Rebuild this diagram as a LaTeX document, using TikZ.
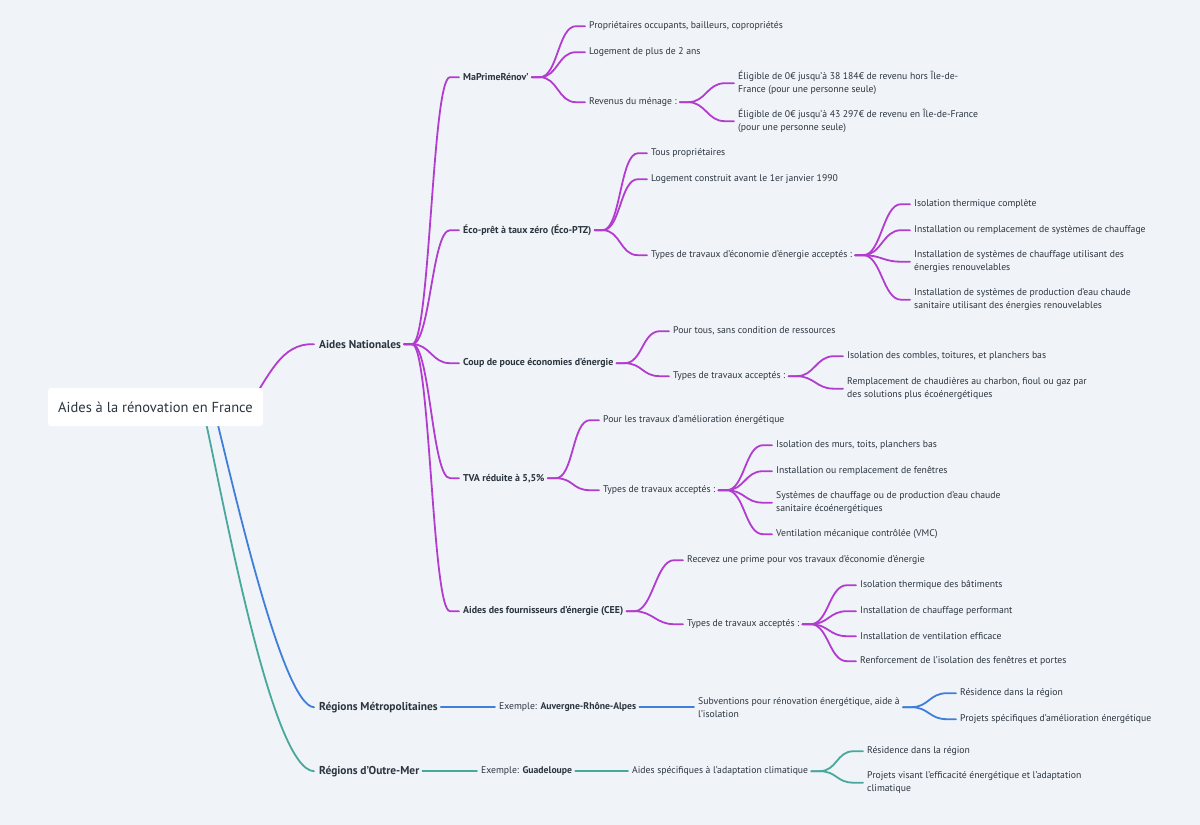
\documentclass[tikz,border=0pt]{standalone}
\usepackage{fontspec}
\setmainfont{PT Sans}
\usetikzlibrary{calc}
\definecolor{bg}{HTML}{F0F3F7}
\definecolor{txt}{HTML}{2B3540}
\definecolor{cpur}{HTML}{B23CCF}
\definecolor{cblue}{HTML}{3F7FD9}
\definecolor{cteal}{HTML}{48A89B}
\tikzset{
  leaf/.style={anchor=west, inner sep=0pt, yshift=-1.2pt, font=\fontsize{9.7}{13}\selectfont, align=left, text=txt},
  sub/.style={anchor=west, inner sep=0pt, yshift=-1.2pt, font=\fontsize{9.9}{13}\selectfont\bfseries, text=txt},
  mainn/.style={anchor=west, inner sep=0pt, yshift=-1.2pt, font=\fontsize{11.4}{13}\selectfont\bfseries, text=txt},
  rootn/.style={fill=white, rounded corners=3pt, minimum width=215pt, minimum height=38pt, inner sep=0pt, font=\fontsize{14.5}{16}\selectfont, text=txt},
  lp/.style={draw=cpur, line width=1.8pt, line cap=round},
  lb/.style={draw=cblue, line width=1.8pt, line cap=round},
  lt/.style={draw=cteal, line width=1.8pt, line cap=round},
}
\newcommand\mlink[3]{\draw[#1] (#2.east) ++(3,0) -- ++(8,0) to[out=0,in=180,out distance=18,in distance=18] ($(#3.west)+(-13,0)$) -- ++(9,0);}
\begin{document}
\begin{tikzpicture}[x=1pt,y=-1pt]
\fill[bg] (0,0) rectangle (1200,825);
\useasboundingbox (0,0) rectangle (1200,825);

% level 1
\node[mainn] (AN) at (319,343) {Aides Nationales};
\node[mainn] (RM) at (319,706) {Régions Métropolitaines};
\node[mainn] (RO) at (319,770) {Régions d'Outre-Mer};

% level 2
\node[sub] (MP) at (463,76) {MaPrimeRénov'};
\node[sub] (EP) at (463,229) {Éco-prêt à taux zéro (Éco-PTZ)};
\node[sub] (CP) at (463,362) {Coup de pouce économies d'énergie};
\node[sub] (TV) at (463,477) {TVA réduite à 5,5\%};
\node[sub] (AF) at (463,610) {Aides des fournisseurs d'énergie (CEE)};

% MaPrimeRenov
\node[leaf] (mp1) at (589,25) {Propriétaires occupants, bailleurs, copropriétés};
\node[leaf] (mp2) at (589,51) {Logement de plus de 2 ans};
\node[leaf] (mp3) at (589,101) {Revenus du ménage :};
\node[leaf] (mp31) at (738,82) {Éligible de 0€ jusqu'à 38 184€ de revenu hors Île-de-\\France (pour une personne seule)};
\node[leaf] (mp32) at (738,120) {Éligible de 0€ jusqu'à 43 297€ de revenu en Île-de-France\\(pour une personne seule)};

% Eco-PTZ
\node[leaf] (ep1) at (651,152) {Tous propriétaires};
\node[leaf] (ep2) at (651,178) {Logement construit avant le 1er janvier 1990};
\node[leaf] (ep3) at (651,254) {Types de travaux d'économie d'énergie acceptés :};
\node[leaf] (ep31) at (914,203) {Isolation thermique complète};
\node[leaf] (ep32) at (914,229) {Installation ou remplacement de systèmes de chauffage};
\node[leaf] (ep33) at (914,260.5) {Installation de systèmes de chauffage utilisant des\\énergies renouvelables};
\node[leaf] (ep34) at (914,298.5) {Installation de systèmes de production d'eau chaude\\sanitaire utilisant des énergies renouvelables};

% Coup de pouce
\node[leaf] (cp1) at (673,330) {Pour tous, sans condition de ressources};
\node[leaf] (cp2) at (673,375) {Types de travaux acceptés :};
\node[leaf] (cp21) at (847,355) {Isolation des combles, toitures, et planchers bas};
\node[leaf] (cp22) at (847,387.5) {Remplacement de chaudières au charbon, fioul ou gaz par\\des solutions plus écoénergétiques};

% TVA
\node[leaf] (tv1) at (603,419) {Pour les travaux d'amélioration énergétique};
\node[leaf] (tv2) at (603,489) {Types de travaux acceptés :};
\node[leaf] (tv21) at (776,444) {Isolation des murs, toits, planchers bas};
\node[leaf] (tv22) at (776,470) {Installation ou remplacement de fenêtres};
\node[leaf] (tv23) at (776,501.5) {Systèmes de chauffage ou de production d'eau chaude\\sanitaire écoénergétiques};
\node[leaf] (tv24) at (776,533) {Ventilation mécanique contrôlée (VMC)};

% CEE
\node[leaf] (af1) at (687,559) {Recevez une prime pour vos travaux d'économie d'énergie};
\node[leaf] (af2) at (687,623) {Types de travaux acceptés :};
\node[leaf] (af21) at (860,584) {Isolation thermique des bâtiments};
\node[leaf] (af22) at (860,610) {Installation de chauffage performant};
\node[leaf] (af23) at (860,635) {Installation de ventilation efficace};
\node[leaf] (af24) at (860,660) {Renforcement de l'isolation des fenêtres et portes};

% Regions metropolitaines
\node[leaf] (rm1) at (499,706) {Exemple: \textbf{Auvergne-Rhône-Alpes}};
\node[leaf] (rm2) at (698,706) {Subventions pour rénovation énergétique, aide à\\l'isolation};
\node[leaf] (rm21) at (960,692) {Résidence dans la région};
\node[leaf] (rm22) at (960,718) {Projets spécifiques d'amélioration énergétique};

% Regions d'outre-mer
\node[leaf] (ro1) at (481,770) {Exemple: \textbf{Guadeloupe}};
\node[leaf] (ro2) at (632,770) {Aides spécifiques à l'adaptation climatique};
\node[leaf] (ro21) at (867,750) {Résidence dans la région};
\node[leaf] (ro22) at (867,781.5) {Projets visant l'efficacité énergétique et l'adaptation\\climatique};

% root connectors
\coordinate (rp) at (240,420);
\coordinate (rb) at (213,405);
\coordinate (rt) at (202,405);
\draw[lp] (rp) .. controls (270,375) and (280,343) .. ($(AN.west)+(-5,0)$);
\draw[lb] (rb) .. controls (232,480) and (282,706) .. ($(RM.west)+(-5,0)$);
\draw[lt] (rt) .. controls (220,480) and (270,770) .. ($(RO.west)+(-5,0)$);

% root
\node[rootn] (root) at (155.5,407) {Aides à la rénovation en France};

% purple links
\foreach \c in {MP,EP,CP,TV,AF} {\mlink{lp}{AN}{\c}}
\foreach \c in {mp1,mp2,mp3} {\mlink{lp}{MP}{\c}}
\foreach \c in {mp31,mp32} {\mlink{lp}{mp3}{\c}}
\foreach \c in {ep1,ep2,ep3} {\mlink{lp}{EP}{\c}}
\foreach \c in {ep31,ep32,ep33,ep34} {\mlink{lp}{ep3}{\c}}
\foreach \c in {cp1,cp2} {\mlink{lp}{CP}{\c}}
\foreach \c in {cp21,cp22} {\mlink{lp}{cp2}{\c}}
\foreach \c in {tv1,tv2} {\mlink{lp}{TV}{\c}}
\foreach \c in {tv21,tv22,tv23,tv24} {\mlink{lp}{tv2}{\c}}
\foreach \c in {af1,af2} {\mlink{lp}{AF}{\c}}
\foreach \c in {af21,af22,af23,af24} {\mlink{lp}{af2}{\c}}

% blue links
\mlink{lb}{RM}{rm1}
\mlink{lb}{rm1}{rm2}
\foreach \c in {rm21,rm22} {\mlink{lb}{rm2}{\c}}

% teal links
\mlink{lt}{RO}{ro1}
\mlink{lt}{ro1}{ro2}
\foreach \c in {ro21,ro22} {\mlink{lt}{ro2}{\c}}
\end{tikzpicture}
\end{document}
